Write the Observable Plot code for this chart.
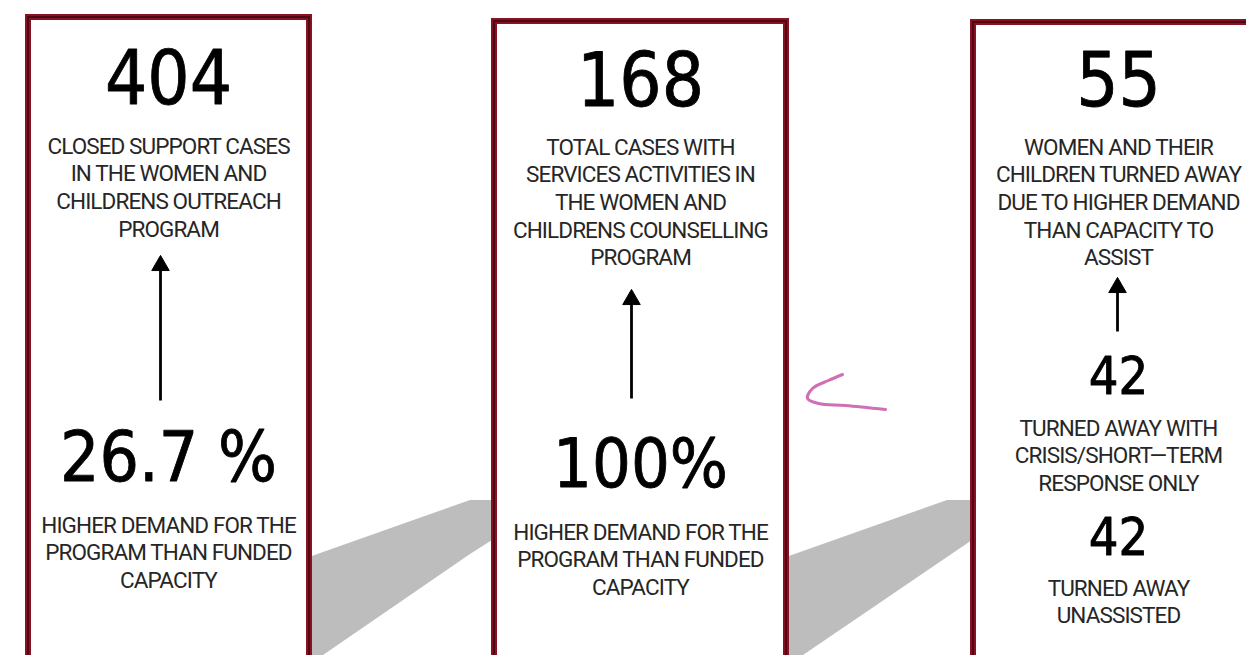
<!DOCTYPE html>
<html>
<head>
<meta charset="utf-8">
<script src="https://cdn.jsdelivr.net/npm/d3@7"></script>
<script src="https://cdn.jsdelivr.net/npm/@observablehq/plot@0.6"></script>
<style>
  html, body { margin: 0; padding: 0; background: #ffffff; }
  #chart svg { display: block; }
  #chart .small-label text { letter-spacing: -0.9px; }
</style>
</head>
<body>
<div id="chart"></div>
<script>
// ---- Data ----
const headlineValues = ["404", "168", "55"];
const headlineLabels = [
  ["CLOSED SUPPORT CASES", "IN THE WOMEN AND", "CHILDRENS OUTREACH", "PROGRAM"],
  ["TOTAL CASES WITH", "SERVICES ACTIVITIES IN", "THE WOMEN AND", "CHILDRENS COUNSELLING", "PROGRAM"],
  ["WOMEN AND THEIR", "CHILDREN TURNED AWAY", "DUE TO HIGHER DEMAND", "THAN CAPACITY TO", "ASSIST"]
];
const demandValues = ["26.7 %", "100%"];
const demandLabels = [
  ["HIGHER DEMAND FOR THE", "PROGRAM THAN FUNDED", "CAPACITY"],
  ["HIGHER DEMAND FOR THE", "PROGRAM THAN FUNDED", "CAPACITY"]
];
const turnedAwayValues = ["42", "42"];
const turnedAwayLabels = [
  ["TURNED AWAY WITH", "CRISIS/SHORT\u2014TERM", "RESPONSE ONLY"],
  ["TURNED AWAY", "UNASSISTED"]
];

// ---- Layout (pixel canvas coordinates) ----
const W = 1246, H = 655;
const panels = [
  {x1: 28, x2: 309, y1: 17, cx: 168},
  {x1: 494, x2: 786, y1: 21, cx: 640},
  {x1: 973, x2: 1262, y1: 22, cx: 1118}
];
const lineGap = 27.6;
const headY = [80, 82, 82];
const headLabelY = [146, 147, 147];
const demandY = [458, 465];
const demandSize = [69, 68];
const demandLabelY = [525, 532];
const turnedY = [377, 538];
const turnedLabelY = [428, 588];
const arrows = [
  {x: 160, y1: 400, y2: 259},
  {x: 631, y1: 398, y2: 293},
  {x: 1117, y1: 331, y2: 281}
];
const connectors = [
  [{x: 309, t: 557, b: 662}, {x: 323, t: 552, b: 655}, {x: 470, t: 500, b: 554}, {x: 492, t: 500, b: 540}],
  [{x: 786, t: 557, b: 662}, {x: 803, t: 551, b: 655}, {x: 947, t: 500, b: 557}, {x: 972, t: 500, b: 540}]
];
const squiggle = [
  {x: 842, y: 374}, {x: 828, y: 380}, {x: 812, y: 388}, {x: 807, y: 398},
  {x: 818, y: 403}, {x: 845, y: 405}, {x: 885, y: 409}
];

// ---- Build text rows ----
const bigTexts = [];
const smallTexts = [];
headlineValues.forEach((v, i) => {
  bigTexts.push({x: panels[i].cx, y: headY[i], text: v, size: 74});
  headlineLabels[i].forEach((t, j) => smallTexts.push({x: panels[i].cx, y: headLabelY[i] + j * lineGap, text: t}));
});
demandValues.forEach((v, i) => {
  bigTexts.push({x: panels[i].cx, y: demandY[i], text: v, size: demandSize[i]});
  demandLabels[i].forEach((t, j) => smallTexts.push({x: panels[i].cx, y: demandLabelY[i] + j * lineGap, text: t}));
});
turnedAwayValues.forEach((v, i) => {
  bigTexts.push({x: panels[2].cx, y: turnedY[i], text: v, size: 52});
  turnedAwayLabels[i].forEach((t, j) => smallTexts.push({x: panels[2].cx, y: turnedLabelY[i] + j * lineGap, text: t}));
});

const connectorRows = connectors.flatMap((c, k) => c.map(d => ({...d, k})));

const chart = Plot.plot({
  width: W,
  height: H,
  margin: 0,
  x: {domain: [0, W], axis: null},
  y: {domain: [H, 0], axis: null},
  style: {background: "#ffffff", overflow: "hidden"},
  marks: [
    Plot.areaY(connectorRows, {x: "x", y1: "t", y2: "b", z: "k", fill: "#bdbdbd", curve: "linear"}),
    Plot.rect(panels, {x1: "x1", x2: "x2", y1: "y1", y2: () => 700, fill: "none", stroke: "#8a1023", strokeWidth: 6}),
    Plot.rect(panels, {x1: "x1", x2: "x2", y1: "y1", y2: () => 700, fill: "none", stroke: "#4a0a12", strokeWidth: 2}),
    Plot.link(arrows, {x1: "x", x2: "x", y1: "y1", y2: (d) => d.y2 + 8, stroke: "#000", strokeWidth: 2.8}),
    Plot.dot(arrows, {x: "x", y: (d) => d.y2 + 6, symbol: "triangle", r: 6.5, fill: "#000", stroke: "#000", strokeWidth: 1}),
    Plot.line(squiggle, {x: "x", y: "y", stroke: "#cf6fb6", strokeWidth: 3, curve: "catmull-rom"}),
    Plot.text(bigTexts, {x: "x", y: "y", text: "text", fontSize: "size", fill: "#000", stroke: "#000", strokeWidth: 0.8, textAnchor: "middle", lineAnchor: "middle", fontFamily: "DejaVu Sans Condensed, DejaVu Sans, sans-serif"}),
    Plot.text(smallTexts, {x: "x", y: "y", text: "text", fontSize: 22.5, fill: "#262626", textAnchor: "middle", lineAnchor: "middle", fontFamily: "Roboto, Liberation Sans Narrow, sans-serif", className: "small-label"})
  ]
});
document.getElementById("chart").appendChild(chart);
</script>
</body>
</html>
